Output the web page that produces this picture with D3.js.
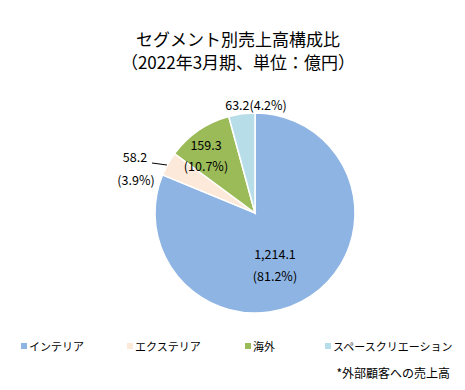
<!DOCTYPE html>
<html><head><meta charset="utf-8">
<script src="https://cdn.jsdelivr.net/npm/d3@7"></script>
<style>body{margin:0;background:#fff;}svg{display:block;font-family:"Noto Sans CJK JP",sans-serif;}</style>
</head><body>
<svg id="c" width="465" height="390"></svg>
<script>
const categories = ["インテリア","エクステリア","海外","スペースクリエーション"];
const values = [1214.1, 58.2, 159.3, 63.2];
const percents = ["81.2%","3.9%","10.7%","4.2%"];
const colors = ["#8EB4E3","#FDE9D9","#9BBB59","#B7DEE8"];
const titleLines = ["セグメント別売上高構成比","（2022年3月期、単位：億円）"];
const footnote = "*外部顧客への売上高";

const svg = d3.select("#c");
const cx = 255, cy = 213, r = 100;

svg.selectAll("text.title").data(titleLines).enter().append("text")
  .attr("x", 238).attr("y", (d,i)=>46 + i*23)
  .attr("text-anchor","middle").attr("font-size",17).attr("fill","#000").text(d=>d);

const pie = d3.pie().sort(null).value(d=>d)(values);
const arc = d3.arc().innerRadius(0).outerRadius(r);
const g = svg.append("g").attr("transform",`translate(${cx},${cy})`);
g.selectAll("path").data(pie).enter().append("path")
  .attr("d",arc).attr("fill",(d,i)=>colors[i]).attr("stroke","#fff").attr("stroke-width",1.5);

const fmt = d3.format(",.1f");
const lab = svg.append("g").attr("font-size",12.5).attr("fill","#000");
lab.append("text").attr("x",275).attr("y",259).attr("text-anchor","middle").text(fmt(values[0]));
lab.append("text").attr("x",275).attr("y",281).attr("text-anchor","middle").text("("+percents[0]+")");
lab.append("text").attr("x",135).attr("y",162).attr("text-anchor","middle").text(fmt(values[1]));
lab.append("text").attr("x",136).attr("y",185).attr("text-anchor","middle").text("("+percents[1]+")");
svg.append("path").attr("d",d3.line()([[152,163],[167,165]])).attr("stroke","#000").attr("fill","none").attr("stroke-width",1);
lab.append("text").attr("x",206).attr("y",150).attr("text-anchor","middle").text(fmt(values[2]));
lab.append("text").attr("x",206).attr("y",171).attr("text-anchor","middle").text("("+percents[2]+")");
lab.append("text").attr("x",256).attr("y",110).attr("text-anchor","middle").text(fmt(values[3])+"("+percents[3]+")");

const legX = [21,127,245,325];
const leg = svg.append("g");
categories.forEach((c,i)=>{
  leg.append("rect").attr("x",legX[i]).attr("y",343).attr("width",6).attr("height",6).attr("fill",colors[i]);
  leg.append("text").attr("x",legX[i]+8).attr("y",351).attr("font-size",11).text(c);
});
svg.append("text").attr("x",450).attr("y",378).attr("text-anchor","end").attr("font-size",12).text(footnote);
</script>
</body></html>
